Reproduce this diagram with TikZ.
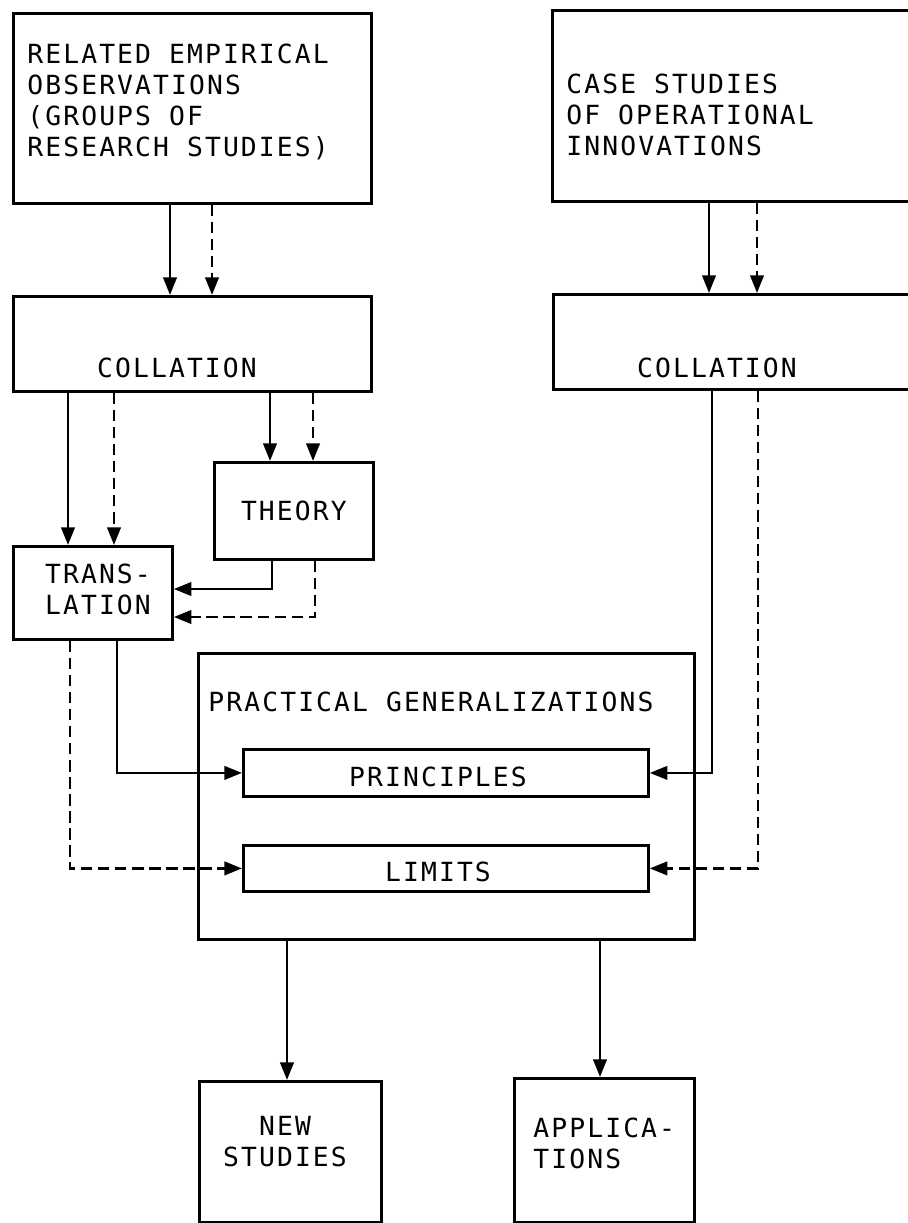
\documentclass[tikz,border=0pt]{standalone}
\usepackage{fontspec}
\usetikzlibrary{arrows.meta}
\newfontfamily\lettering[LetterSpace=8]{DejaVu Sans Mono}

\begin{document}
\begin{tikzpicture}[x=0.02cm,y=-0.02cm,line width=1.6pt,
  font=\lettering\fontsize{15pt}{17.6pt}\selectfont,
  box/.style={draw,anchor=north west,inner sep=0pt,align=center},
  txt/.style={inner sep=0pt,align=left},
  arr/.style={-{Triangle[length=10pt,width=7.6pt]}},
  dsh/.style={arr,dash pattern=on 6.5pt off 3.2pt}]
\useasboundingbox (0,0) rectangle (907,1223);
\node[box,minimum width=7.16cm,minimum height=3.8cm] (obs) at (12,12) {};
\node[txt,anchor=north west] (obstxt) at (26,43) {RELATED EMPIRICAL\\OBSERVATIONS\\(GROUPS OF\\RESEARCH STUDIES)};
\node[box,minimum width=7.3cm,minimum height=3.82cm] (cases) at (551,9) {};
\node[txt,anchor=north west] (casestxt) at (565,73) {CASE STUDIES\\OF OPERATIONAL\\INNOVATIONS};
\node[box,minimum width=7.16cm,minimum height=1.9cm] (coll1) at (12,295) {};
\node[txt] (coll1txt) at (177,368) {COLLATION};
\node[box,minimum width=7.3cm,minimum height=1.9cm] (coll2) at (552,293) {};
\node[txt] (coll2txt) at (717,368) {COLLATION};
\node[box,minimum width=3.18cm,minimum height=1.94cm] (theory) at (213,461) {THEORY};
\node[box,minimum width=3.18cm,minimum height=1.86cm] (trans) at (12,545) {};
\node[txt,align=center] (transtxt) at (98,589) {TRANS-\\LATION};
\node[box,minimum width=9.92cm,minimum height=5.72cm] (pract) at (197,652) {};
\node[txt,anchor=west] (practtxt) at (207,702) {PRACTICAL GENERALIZATIONS};
\node[box,minimum width=8.1cm,minimum height=0.94cm] (princ) at (242,748) {};
\node[txt] (princtxt) at (438,777) {PRINCIPLES};
\node[box,minimum width=8.1cm,minimum height=0.92cm] (limits) at (242,844) {};
\node[txt] (limitstxt) at (438,872) {LIMITS};
\node[box,minimum width=3.64cm,minimum height=2.82cm] (newst) at (198,1080) {};
\node[txt,align=center] (newsttxt) at (285,1142) {NEW\\STUDIES};
\node[box,minimum width=3.6cm,minimum height=2.88cm] (appl) at (513,1077) {};
\node[txt,anchor=north west] (appltxt) at (532,1117) {APPLICA-\\TIONS};
\draw[arr] (obs.south -| 170,0) -- (coll1.north -| 170,0);
\draw[dsh] (obs.south -| 212,0) -- (coll1.north -| 212,0);
\draw[arr] (cases.south -| 709,0) -- (coll2.north -| 709,0);
\draw[dsh] (cases.south -| 757,0) -- (coll2.north -| 757,0);
\draw[arr] (coll1.south -| 68,0) -- (trans.north -| 68,0);
\draw[dsh] (coll1.south -| 114,0) -- (trans.north -| 114,0);
\draw[arr] (coll1.south -| 270,0) -- (theory.north -| 270,0);
\draw[dsh] (coll1.south -| 313,0) -- (theory.north -| 313,0);
\draw[arr] (theory.south -| 272,0) |- (trans.east |- 0,589);
\draw[dsh] (theory.south -| 315,0) |- (trans.east |- 0,617);
\draw[arr] (trans.south -| 117,0) |- (princ.west);
\draw[dsh] (trans.south -| 70,0) |- (limits.west);
\draw[arr] (coll2.south -| 712,0) |- (princ.east);
\draw[dsh] (coll2.south -| 758,0) |- (limits.east);
\draw[arr] (pract.south -| 287,0) -- (newst.north -| 287,0);
\draw[arr] (pract.south -| 600,0) -- (appl.north -| 600,0);
\end{tikzpicture}
\end{document}
